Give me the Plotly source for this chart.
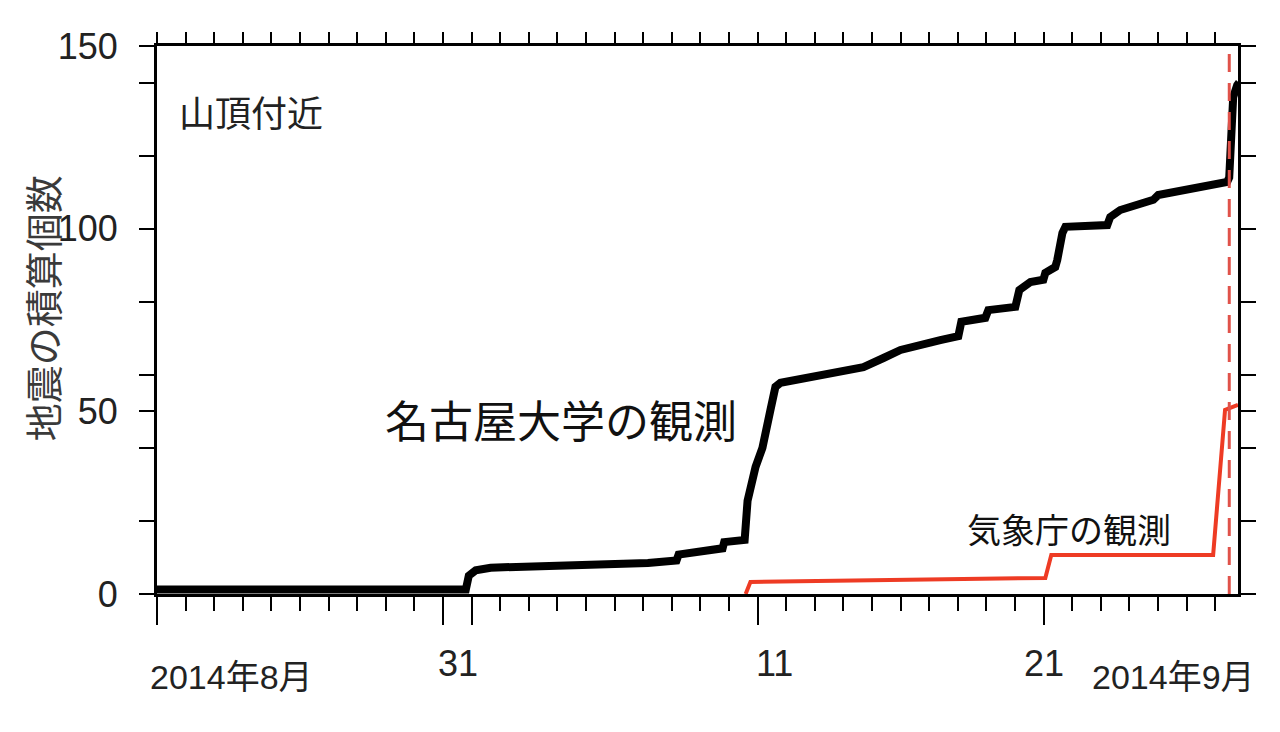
import plotly.graph_objects as go
import pandas as pd

# ---- data ----
nagoya_time = [
    "2014-08-21 00:00", "2014-08-31 19:10", "2014-08-31 21:40", "2014-09-01 03:30",
    "2014-09-01 16:00", "2014-09-03 18:30", "2014-09-07 04:00", "2014-09-08 04:00",
    "2014-09-08 05:45", "2014-09-09 18:40", "2014-09-09 20:00", "2014-09-10 13:10",
    "2014-09-10 15:36", "2014-09-10 22:20", "2014-09-11 04:05", "2014-09-11 10:50",
    "2014-09-11 15:00", "2014-09-11 19:15", "2014-09-12 20:25", "2014-09-13 13:10",
    "2014-09-14 16:50", "2014-09-15 09:40", "2014-09-16 00:00", "2014-09-17 09:20",
    "2014-09-18 00:30", "2014-09-18 03:00", "2014-09-18 23:10", "2014-09-19 01:40",
    "2014-09-20 00:20", "2014-09-20 03:40", "2014-09-20 13:00", "2014-09-20 23:50",
    "2014-09-21 01:30", "2014-09-21 09:50", "2014-09-21 11:30", "2014-09-21 15:50",
    "2014-09-21 18:20", "2014-09-23 05:30", "2014-09-23 08:00", "2014-09-23 16:20",
    "2014-09-24 20:10", "2014-09-25 00:15", "2014-09-27 10:05", "2014-09-27 11:50",
    "2014-09-27 14:20", "2014-09-27 15:10", "2014-09-27 18:30", "2014-09-27 20:10",
]
nagoya_count = [
    1.2, 1.2, 5, 6.5,
    7.2, 7.5, 8.5, 9.2,
    10.8, 12.5, 14.2, 14.8,
    25.5, 34.8, 40, 50.4,
    56.7, 57.8, 59.4, 60.8,
    62.1, 64.6, 66.8, 69.5,
    70.6, 74.5, 75.6, 77.7,
    78.6, 83.2, 85.4, 86,
    87.9, 89.5, 91.4, 98.8,
    100.5, 101, 103.2, 105.1,
    107.9, 109.2, 112.8, 114,
    127, 136, 139.3, 140,
]

jma_time = [
    "2014-09-10 14:00", "2014-09-10 18:00", "2014-09-21 01:30", "2014-09-21 06:30",
    "2014-09-26 22:20", "2014-09-27 08:20", "2014-09-27 19:10",
]
jma_count = [0, 3.3, 4.4, 10.7, 10.7, 50.4, 51.8]

eruption_time = "2014-09-27 11:52"

x_start = "2014-08-21 00:00"
x_end = "2014-09-27 19:12"

major_x_ticks = ["2014-08-21", "2014-08-31", "2014-09-01", "2014-09-11", "2014-09-21"]
day_labels = ["31", "11", "21"]
day_label_pos = ["2014-08-31 12:30", "2014-09-11 14:00", "2014-09-21 00:00"]
month_labels = ["2014年8月", "2014年9月"]

y_major = [0, 50, 100, 150]
y_minor = [20, 40, 60, 80, 120, 140]

NUM_FONT = "Liberation Sans, Arial, Noto Sans CJK JP, sans-serif"
CJK_FONT = "Noto Sans CJK JP, sans-serif"

fig = go.Figure()

fig.add_trace(go.Scatter(
    x=nagoya_time, y=nagoya_count, mode="lines",
    line=dict(color="black", width=8), showlegend=False, hoverinfo="skip",
))
fig.add_trace(go.Scatter(
    x=jma_time, y=jma_count, mode="lines",
    line=dict(color="#ee3b24", width=4), showlegend=False, hoverinfo="skip",
))
# dummy trace to activate the top axis
fig.add_trace(go.Scatter(
    x=[x_start], y=[0], xaxis="x2", mode="markers",
    marker=dict(opacity=0), showlegend=False, hoverinfo="skip",
))

fig.add_shape(type="line", xref="x", yref="paper",
              x0=eruption_time, x1=eruption_time, y0=0, y1=1,
              line=dict(color="#e0524a", width=3, dash="18px,11px"))

daily = [d.strftime("%Y-%m-%d") for d in pd.date_range("2014-08-21", "2014-09-27", freq="D")]

fig.update_layout(
    width=1272, height=724,
    margin=dict(l=149, r=42, t=38, b=138),
    paper_bgcolor="white", plot_bgcolor="white",
    xaxis=dict(
        type="date", range=[x_start, x_end],
        showgrid=False, zeroline=False,
        showline=True, linecolor="black", linewidth=3, mirror=True,
        tickvals=major_x_ticks, ticks="outside", ticklen=28, tickwidth=2, tickcolor="black",
        showticklabels=False,
        minor=dict(tickvals=daily, ticks="outside", ticklen=14, tickwidth=2, tickcolor="black"),
    ),
    xaxis2=dict(
        type="date", range=[x_start, x_end], overlaying="x", side="top", anchor="y",
        showgrid=False, zeroline=False, showline=False,
        tickvals=daily, ticks="outside", ticklen=13, tickwidth=2, tickcolor="black",
        showticklabels=False,
    ),
    yaxis=dict(
        range=[0, 150], showgrid=False, zeroline=False,
        showline=True, linecolor="black", linewidth=3, mirror="allticks",
        tickvals=y_major, ticks="outside", ticklen=15, tickwidth=2, tickcolor="black",
        tickfont=dict(family=NUM_FONT, size=36, color="#222222"),
        ticklabelstandoff=14,
        minor=dict(tickvals=y_minor, ticks="outside", ticklen=8, tickwidth=2, tickcolor="black"),
    ),
)

for lab, pos in zip(day_labels, day_label_pos):
    fig.add_annotation(x=pos, y=0, xref="x", yref="paper", text=lab, showarrow=False,
                       xanchor="center", yanchor="middle", yshift=-69,
                       font=dict(family=NUM_FONT, size=36, color="#222222"))

fig.add_annotation(x=x_start, y=0, xref="x", yref="paper", text=month_labels[0], showarrow=False,
                   xanchor="left", yanchor="middle", yshift=-83, xshift=-9,
                   font=dict(family=NUM_FONT, size=34, color="#222222"))
fig.add_annotation(x=x_end, y=0, xref="x", yref="paper", text=month_labels[1], showarrow=False,
                   xanchor="right", yanchor="middle", yshift=-83, xshift=19,
                   font=dict(family=NUM_FONT, size=34, color="#222222"))

# y-axis title
fig.add_annotation(x=-0.106, y=0.522, xref="paper", yref="paper", text="地震の積算個数",
                   textangle=-90, showarrow=False, xanchor="center", yanchor="middle",
                   font=dict(family=CJK_FONT, size=38, color="#3a3a3a"))

# in-plot labels
fig.add_annotation(x=0.087, y=0.882, xref="paper", yref="paper", text="山頂付近",
                   showarrow=False, xanchor="center", yanchor="middle",
                   font=dict(family=CJK_FONT, size=36, color="#222222"))
fig.add_annotation(x=0.374, y=0.320, xref="paper", yref="paper", text="名古屋大学の観測",
                   showarrow=False, xanchor="center", yanchor="middle",
                   font=dict(family=CJK_FONT, size=44, color="#111111"))
fig.add_annotation(x=0.844, y=0.120, xref="paper", yref="paper", text="気象庁の観測",
                   showarrow=False, xanchor="center", yanchor="middle",
                   font=dict(family=CJK_FONT, size=34, color="#111111"))

fig.write_html("out.html")
